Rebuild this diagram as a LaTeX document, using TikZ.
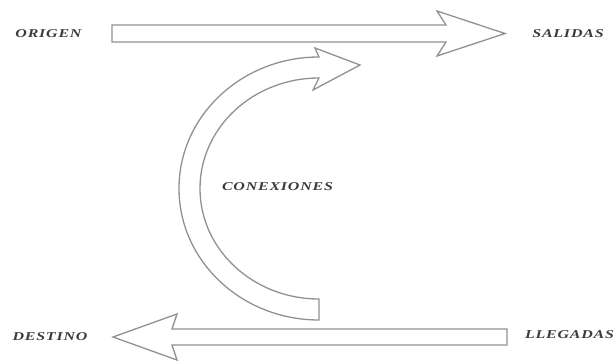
\documentclass[tikz,border=0pt]{standalone}
\usepackage{fontspec}
\setmainfont{Liberation Serif}
\usepackage{graphicx}
\definecolor{edgegray}{RGB}{145,145,145}
\definecolor{textgray}{RGB}{60,60,60}
\tikzset{
  blockarrow/.style={draw=edgegray, line width=1.3pt, fill=white, line join=miter},
  lbl/.style={inner sep=0pt, text=textgray, font=\fontsize{12}{12}\selectfont\bfseries\itshape\addfontfeatures{LetterSpace=5}}
}
\newcommand{\wide}[1]{\scalebox{1.33}[1]{#1}}
\begin{document}
\begin{tikzpicture}[x=1pt,y=1pt]
\useasboundingbox (0,0) rectangle (614,362);
% top arrow (ORIGEN -> SALIDAS)
\draw[blockarrow] (112,320) -- (112,337) -- (446,337) -- (437,351) -- (505,328.5) -- (437,306) -- (446,320) -- cycle;
% bottom arrow (LLEGADAS -> DESTINO)
\draw[blockarrow] (507,33) -- (172,33) -- (177,48) -- (113,25) -- (177,2) -- (172,17) -- (507,17) -- cycle;
% curved arrow (CONEXIONES)
\draw[blockarrow] (319,42) arc[start angle=-90, end angle=-270, x radius=140, y radius=131.5]
  -- (315,314) -- (360,297) -- (313,272) -- (319,284)
  arc[start angle=90, end angle=270, x radius=119, y radius=110.5] -- cycle;
% labels
\node[lbl] (origen) at (48.5,328) {\wide{ORIGEN}};
\node[lbl] (salidas) at (568,328) {\wide{SALIDAS}};
\node[lbl] (conexiones) at (277.5,175) {\wide{CONEXIONES}};
\node[lbl] (destino) at (50,25) {\wide{DESTINO}};
\node[lbl] (llegadas) at (569.5,27) {\wide{LLEGADAS}};
\end{tikzpicture}
\end{document}
